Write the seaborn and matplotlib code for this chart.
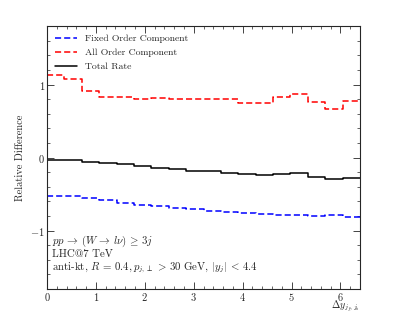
import matplotlib
matplotlib.use("Agg")
import matplotlib.pyplot as plt
from matplotlib.ticker import MultipleLocator
import seaborn as sns
import numpy as np
import pandas as pd

# bin edges of Delta y (18 bins from 0 to 6.4)
bin_edges = np.linspace(0.0, 6.4, 19)

fixed_order = [-0.53, -0.53, -0.56, -0.58, -0.62, -0.65, -0.67, -0.695, -0.71,
               -0.73, -0.745, -0.76, -0.77, -0.78, -0.79, -0.795, -0.79, -0.82]
all_order = [1.13, 1.07, 0.91, 0.83, 0.83, 0.80, 0.82, 0.80, 0.80,
             0.80, 0.80, 0.75, 0.75, 0.83, 0.87, 0.76, 0.67, 0.78]
total_rate = [-0.04, -0.04, -0.06, -0.077, -0.095, -0.12, -0.14, -0.16, -0.18,
              -0.19, -0.205, -0.23, -0.24, -0.23, -0.21, -0.27, -0.29, -0.28]

series = {
    "Fixed Order Component": fixed_order,
    "All Order Component": all_order,
    "Total Rate": total_rate,
}

sns.set_style("ticks")
plt.rcParams['font.family'] = ['serif']
plt.rcParams['font.serif'] = ['cmr10', 'DejaVu Serif']
plt.rcParams['mathtext.fontset'] = 'cm'
plt.rcParams['axes.formatter.use_mathtext'] = True
plt.rcParams['font.size'] = 7.5

rows = []
for name, vals in series.items():
    # repeat last value so steps-post reaches the final edge
    ys = list(vals) + [vals[-1]]
    for x, y in zip(bin_edges, ys):
        rows.append({"x": x, "y": y, "series": name})
df = pd.DataFrame(rows)

fig = plt.figure(figsize=(4.07, 3.16), dpi=100)
ax = fig.add_axes([0.1155, 0.0854, 0.769, 0.832])

sns.lineplot(data=df, x="x", y="y", hue="series", style="series",
             palette={"Fixed Order Component": "blue",
                      "All Order Component": "red",
                      "Total Rate": "black"},
             dashes={"Fixed Order Component": (4, 2),
                     "All Order Component": (4, 2),
                     "Total Rate": ""},
             drawstyle="steps-post", estimator=None, sort=False,
             linewidth=1.1, ax=ax)

ax.set_xlim(0, 6.4)
ax.set_ylim(-1.8, 1.8)
ax.xaxis.set_major_locator(MultipleLocator(1))
ax.xaxis.set_minor_locator(MultipleLocator(0.2))
ax.yaxis.set_major_locator(MultipleLocator(1))
ax.yaxis.set_minor_locator(MultipleLocator(0.2))
ax.tick_params(which='both', direction='in', top=True, right=True,
               labelsize=7.5, pad=1.5)
ax.tick_params(which='major', length=5, width=0.6)
ax.tick_params(which='minor', length=2.5, width=0.5)
for sp in ax.spines.values():
    sp.set_linewidth(0.8)

ax.set_xlabel(r"$\Delta y_{j_f,j_b}$", fontsize=7.2)
ax.xaxis.set_label_coords(1.0, -0.064)
ax.xaxis.label.set_horizontalalignment('right')
ax.xaxis.label.set_verticalalignment('center')
ax.set_ylabel("Relative Difference", fontsize=7.5)
ax.yaxis.set_label_coords(-0.07, 0.5)

leg = ax.legend(loc='upper left', frameon=False, fontsize=7,
                handlelength=2.2, handletextpad=0.9, labelspacing=0.55,
                borderaxespad=0.45)
leg.set_title(None)

note_size = 7.8
ax.text(0.015, 0.183, r"$pp\,\rightarrow\,(W\,\rightarrow\,l\nu)\,\geq\,3j$",
        transform=ax.transAxes, fontsize=note_size, va='center')
ax.text(0.015, 0.132, "LHC@7 TeV", transform=ax.transAxes,
        fontsize=note_size, va='center')
ax.text(0.015, 0.08,
        r"anti-kt, $R\,=\,0.4, p_{j,\perp}\,>\,30$ GeV, $|y_j|\,<\,4.4$",
        transform=ax.transAxes, fontsize=note_size, va='center')

fig.savefig("out.png", dpi=100)
